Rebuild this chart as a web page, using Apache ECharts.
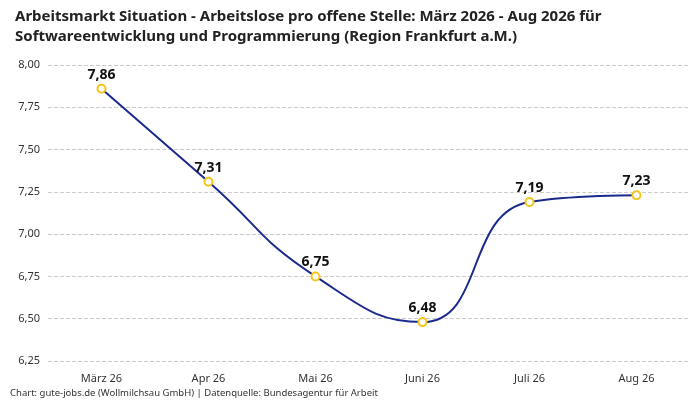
<!DOCTYPE html>
<html>
<head>
<meta charset="utf-8">
<script src="https://cdn.jsdelivr.net/npm/echarts@6/dist/echarts.min.js"></script>
<style>
  html, body { margin: 0; padding: 0; background: #fff; }
  #chart { width: 700px; height: 400px; }
</style>
</head>
<body>
<div id="chart"></div>
<script>
var months = ['März 26', 'Apr 26', 'Mai 26', 'Juni 26', 'Juli 26', 'Aug 26'];
var ratio = [7.86, 7.31, 6.75, 6.48, 7.19, 7.23];

var fmt = function (v) { return v.toFixed(2).replace('.', ','); };

var myChart = echarts.init(document.getElementById('chart'));
var option = {
    textStyle: { fontFamily: 'Noto Sans' },
    title: {
        text: 'Arbeitsmarkt Situation - Arbeitslose pro offene Stelle: März 2026 - Aug 2026 für\nSoftwareentwicklung und Programmierung (Region Frankfurt a.M.)',
        left: 10,
        top: 2,
        textStyle: { fontSize: 15, fontWeight: 'bold', color: '#222', lineHeight: 20 }
    },
    graphic: [{
        type: 'text',
        left: 10,
        top: 388,
        style: {
            text: 'Chart: gute-jobs.de (Wollmilchsau GmbH) | Datenquelle: Bundesagentur für Arbeit',
            fontSize: 9.5, fill: '#333', fontFamily: 'Noto Sans'
        }
    }],
    grid: { left: 48, right: 10, top: 65, bottom: 39 },
    xAxis: {
        type: 'category',
        data: months,
        boundaryGap: true,
        axisLine: { show: false },
        axisTick: { show: false },
        axisLabel: { color: '#333', fontSize: 11, margin: 12 }
    },
    yAxis: {
        type: 'value',
        min: 6.25,
        max: 8,
        interval: 0.25,
        axisLabel: { color: '#333', fontSize: 11, formatter: fmt },
        splitLine: { lineStyle: { type: 'dashed', color: '#ccc' } }
    },
    series: [{
        type: 'line',
        data: ratio,
        smooth: true,
        symbol: 'circle',
        symbolSize: 8,
        lineStyle: { color: '#1a2a8c', width: 2 },
        itemStyle: { color: '#fff', borderColor: '#f5c518', borderWidth: 2 },
        label: {
            show: true,
            position: 'top',
            distance: 2,
            formatter: function (p) { return fmt(p.value); },
            fontSize: 14, fontWeight: 'bold', color: '#111'
        }
    }]
};
myChart.setOption(option);
</script>
</body>
</html>
